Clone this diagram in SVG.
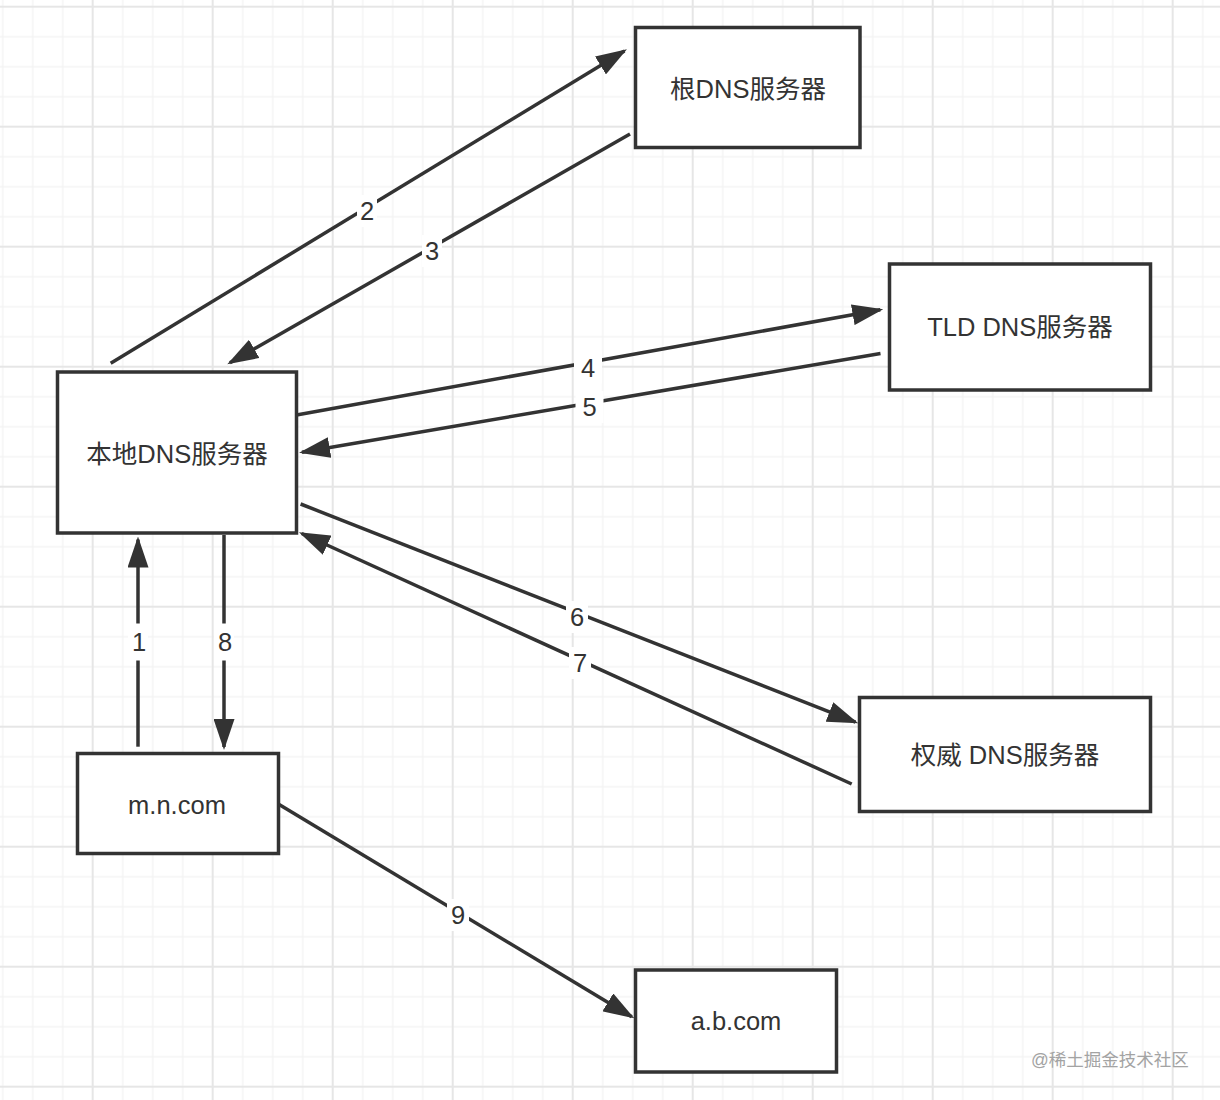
<svg xmlns="http://www.w3.org/2000/svg" width="1220" height="1100" viewBox="0 0 1220 1100">
<style>
.box{fill:#ffffff;stroke:#333333;stroke-width:3.5}
.ntxt{font-family:'Liberation Sans','Noto Sans CJK SC',sans-serif;font-size:25.5px;fill:#333333;text-anchor:middle;dominant-baseline:central}
.edge{stroke:#333333;stroke-width:3.5;fill:none;marker-end:url(#arr)}
.lbg{fill:#ffffff}
.ltxt{font-family:'Liberation Sans','Noto Sans CJK SC',sans-serif;font-size:25.5px;fill:#333333;text-anchor:middle;dominant-baseline:central}
.wm{font-family:'Liberation Sans','Noto Sans CJK SC',sans-serif;font-size:17.5px;fill:#a3a3a3}
</style>
<defs>
<pattern id="grid" x="-27.3" y="6.7" width="120" height="120" patternUnits="userSpaceOnUse">
<rect x="29.5" y="0" width="1" height="120" fill="#efefef"/>
<rect x="59.5" y="0" width="1" height="120" fill="#efefef"/>
<rect x="89.5" y="0" width="1" height="120" fill="#efefef"/>
<rect x="0" y="29.5" width="120" height="1" fill="#efefef"/>
<rect x="0" y="59.5" width="120" height="1" fill="#efefef"/>
<rect x="0" y="89.5" width="120" height="1" fill="#efefef"/>
<rect x="0" y="0" width="1" height="120" fill="#e6e6e6"/>
<rect x="119" y="0" width="1" height="120" fill="#e6e6e6"/>
<rect x="0" y="0" width="120" height="1" fill="#e6e6e6"/>
<rect x="0" y="119" width="120" height="1" fill="#e6e6e6"/>
</pattern>
<marker id="arr" viewBox="0 0 31 21" refX="28" refY="10.5" markerWidth="31" markerHeight="21" markerUnits="userSpaceOnUse" orient="auto">
<path d="M0,0 L31,10.5 L0,21 Z" fill="#333333"/>
</marker>
</defs>
<rect x="0" y="0" width="1220" height="1100" fill="#ffffff"/>
<rect x="0" y="0" width="1220" height="1100" fill="url(#grid)"/>

<g id="connectors">
<g id="e2"><line class="edge" x1="110.7" y1="363.3" x2="624.4" y2="50.9"/><rect class="lbg" x="357" y="195" width="20" height="32"/><text class="ltxt" x="367" y="211">2</text></g>
<g id="e3"><line class="edge" x1="630" y1="134" x2="229.9" y2="362.8"/><rect class="lbg" x="422" y="235" width="20" height="32"/><text class="ltxt" x="432" y="251">3</text></g>
<g id="e4"><line class="edge" x1="296.5" y1="415" x2="880.3" y2="309.8"/><rect class="lbg" x="574" y="351.5" width="28" height="32"/><text class="ltxt" x="588" y="367.5">4</text></g>
<g id="e5"><line class="edge" x1="880.5" y1="353.5" x2="302" y2="452.2"/><rect class="lbg" x="575.5" y="391" width="28" height="32"/><text class="ltxt" x="589.5" y="407">5</text></g>
<g id="e6"><line class="edge" x1="300.6" y1="504" x2="855.5" y2="722.2"/><rect class="lbg" x="566" y="601" width="22" height="32"/><text class="ltxt" x="577" y="617">6</text></g>
<g id="e7"><line class="edge" x1="851.7" y1="784" x2="301.7" y2="533.5"/><rect class="lbg" x="569" y="647" width="22" height="32"/><text class="ltxt" x="580" y="663">7</text></g>
<g id="e1"><line class="edge" x1="138" y1="746.7" x2="138" y2="539.5"/><rect class="lbg" x="128" y="623.5" width="20" height="37"/><text class="ltxt" x="139" y="642">1</text></g>
<g id="e8"><line class="edge" x1="224" y1="535" x2="224" y2="747"/><rect class="lbg" x="214" y="623.5" width="20" height="37"/><text class="ltxt" x="225" y="642">8</text></g>
<g id="e9"><line class="edge" x1="278.3" y1="804" x2="631.8" y2="1016.8"/><rect class="lbg" x="447" y="899" width="22" height="32"/><text class="ltxt" x="458" y="915">9</text></g>
</g>

<g id="root"><rect class="box" x="635.5" y="27.5" width="224.5" height="120"/><text class="ntxt" x="748" y="89">根DNS服务器</text></g>
<g id="local"><rect class="box" x="57.5" y="372" width="239" height="161"/><text class="ntxt" x="177" y="454">本地DNS服务器</text></g>
<g id="tld"><rect class="box" x="889.5" y="264" width="261" height="126"/><text class="ntxt" x="1020" y="327">TLD DNS服务器</text></g>
<g id="auth"><rect class="box" x="859.5" y="697.5" width="291" height="114"/><text class="ntxt" x="1005" y="755">权威 DNS服务器</text></g>
<g id="mn"><rect class="box" x="77.5" y="753.5" width="201" height="100"/><text class="ntxt" x="177" y="805">m.n.com</text></g>
<g id="ab"><rect class="box" x="635.5" y="970" width="201" height="102"/><text class="ntxt" x="736" y="1021">a.b.com</text></g>

<text class="wm" x="1031" y="1066">@稀土掘金技术社区</text>
</svg>
